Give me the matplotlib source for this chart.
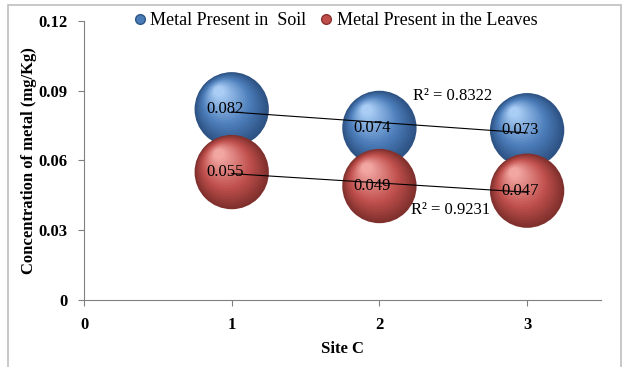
import numpy as np
import matplotlib
matplotlib.use('Agg')
import matplotlib.pyplot as plt
from matplotlib.transforms import offset_copy
from matplotlib.lines import Line2D
from matplotlib.patches import Rectangle

plt.rcParams['font.family'] = ['Liberation Serif', 'DejaVu Serif']

sites = [1, 2, 3]
soil = [0.082, 0.074, 0.073]
leaves = [0.055, 0.049, 0.047]
series_names = ['Metal Present in  Soil', 'Metal Present in the Leaves']
y_ticks = [0, 0.03, 0.06, 0.09, 0.12]
y_tick_labels = ['0', '0.03', '0.06', '0.09', '0.12']
x_ticks = [0, 1, 2, 3]

fig = plt.figure(figsize=(6.27, 3.67), dpi=100)
ax = fig.add_axes([0.134, 0.1826, 0.8245, 0.7604])

# outer chart border
fig.patches.append(Rectangle((0.013, -0.05), 0.978, 1.036, transform=fig.transFigure,
                             fill=False, edgecolor='#bfbfbf', linewidth=1.2))


def shaded_bubbles(x, y, dark, mid, light, z):
    D = 53.5
    n = 20
    dark = np.array(matplotlib.colors.to_rgb(dark))
    mid = np.array(matplotlib.colors.to_rgb(mid))
    light = np.array(matplotlib.colors.to_rgb(light))
    for i in range(n):
        t = i / (n - 1)
        d = D * (1 - 0.86 * t)
        if t < 0.4:
            c = dark + (mid - dark) * (t / 0.4)
        else:
            c = mid + (light - mid) * ((t - 0.4) / 0.6)
        tr = offset_copy(ax.transData, fig=fig, x=-0.17 * D * t, y=0.24 * D * t, units='points')
        ax.scatter(x, y, s=d ** 2, color=c, edgecolors='none', transform=tr, zorder=z + i * 0.01)


shaded_bubbles(sites, soil, '#2d5283', '#4c7dba', '#a9cdf5', 2)
shaded_bubbles(sites, leaves, '#80302d', '#c0504d', '#f2a6a2', 3)

# linear trend lines
for vals, pos in [(soil, (2.495, 0.0879)), (leaves, (2.48, 0.0386))]:
    k, b = np.polyfit(sites, vals, 1)
    xs = np.array([sites[0], sites[-1]])
    ax.plot(xs, k * xs + b, color='black', linewidth=0.8, zorder=5)
    pred = k * np.array(sites) + b
    r2 = 1 - np.sum((np.array(vals) - pred) ** 2) / np.sum((np.array(vals) - np.mean(vals)) ** 2)
    ax.text(pos[0], pos[1], 'R² = %.4f' % r2, fontsize=12, ha='center', va='center', zorder=6)

for vals in [soil, leaves]:
    for x, v in zip(sites, vals):
        ax.annotate('%g' % v, (x, v), xytext=(-5, 0), textcoords='offset points',
                    ha='center', va='center', fontsize=12, zorder=7)

ax.set_xlim(0, 3.5)
ax.set_ylim(0, 0.12)
ax.set_xticks(x_ticks)
ax.set_xticklabels([str(v) for v in x_ticks], fontweight='bold', fontsize=12)
ax.set_yticks(y_ticks)
ax.set_yticklabels(y_tick_labels, fontweight='bold', fontsize=12)
ax.tick_params(direction='out', length=4, color='#808080', pad=8)
for s in ['top', 'right']:
    ax.spines[s].set_visible(False)
for s in ['left', 'bottom']:
    ax.spines[s].set_color('#808080')
ax.set_xlabel('Site C', fontweight='bold', fontsize=12, labelpad=6)
ax.set_ylabel('Concentration of metal (mg/Kg)', fontweight='bold', fontsize=12, labelpad=1)

handles = [Line2D([], [], marker='o', linestyle='', markersize=7, markerfacecolor='#4a7cb8', markeredgecolor='#2f5686'),
           Line2D([], [], marker='o', linestyle='', markersize=7, markerfacecolor='#bf4d4a', markeredgecolor='#8a3431')]
fig.legend(handles, series_names, loc='center', bbox_to_anchor=(0.533, 0.943), ncol=2, frameon=False,
           fontsize=13, handletextpad=0.1, columnspacing=0.6, handlelength=1.0)

fig.savefig('out.png', dpi=100)
